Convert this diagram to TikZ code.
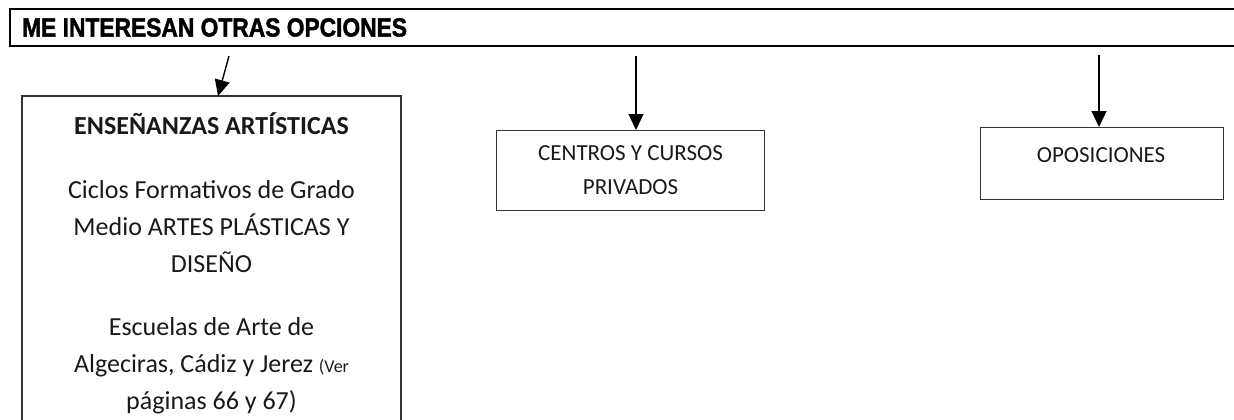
\documentclass[tikz,border=0pt]{standalone}
\usepackage{fontspec}
\setmainfont{Carlito}
\newfontfamily\headfont[FakeBold=1.8]{Liberation Sans}
\usetikzlibrary{arrows.meta}
\begin{document}
\begin{tikzpicture}[x=1pt,y=-1pt,
  boxline/.style={draw=black!80,line width=1.1pt},
  headline/.style={draw=black,line width=2.4pt},
  arr/.style={draw=black,line width=1.4pt,-{Triangle[width=15pt,length=16pt]}},
  txt/.style={inner sep=0pt,align=center,text=black!90}]
\useasboundingbox (0,0) rectangle (1234,420);
% header
\draw[headline] (1240,9) -- (10,9) -- (10,46) -- (1240,46);
\node[anchor=west,inner sep=0pt] (head) at (22,27.5) {\scalebox{0.93}[1.07]{\headfont\bfseries\fontsize{24.5}{26}\selectfont ME INTERESAN OTRAS OPCIONES}};
% box 1
\draw[boxline] (22,425) -- (22,96) -- (401,96) -- (401,425);
\node[txt,font=\fontsize{26}{37}\selectfont] (b1) at (211.5,263) {\textbf{ENSEÑANZAS ARTÍSTICAS}\\[27pt]Ciclos Formativos de Grado\\Medio ARTES PLÁSTICAS Y\\DISEÑO\\[26pt]Escuelas de Arte de\\Algeciras, Cádiz y Jerez {\fontsize{18}{37}\selectfont(Ver}\\páginas 66 y 67)};
\coordinate (b1top) at (218,96);
% box 2
\node[boxline,txt,minimum width=268pt,minimum height=80pt,anchor=north west,font=\fontsize{23}{34}\selectfont] (b2) at (496,130) {CENTROS Y CURSOS\\PRIVADOS};
% box 3
\node[boxline,txt,minimum width=243pt,minimum height=72pt,anchor=north west] (b3) at (980,127) {};
\node[txt,font=\fontsize{23}{34}\selectfont] (b3t) at (1101,155) {OPOSICIONES};
% arrows
\coordinate (s1) at (229,56);
\coordinate (s2) at (636,56);
\coordinate (s3) at (1099,55);
\draw[arr] (s1) -- (b1top);
\draw[arr] (s2) -- (s2 |- b2.north);
\draw[arr] (s3) -- (s3 |- b3.north);
\end{tikzpicture}
\end{document}
